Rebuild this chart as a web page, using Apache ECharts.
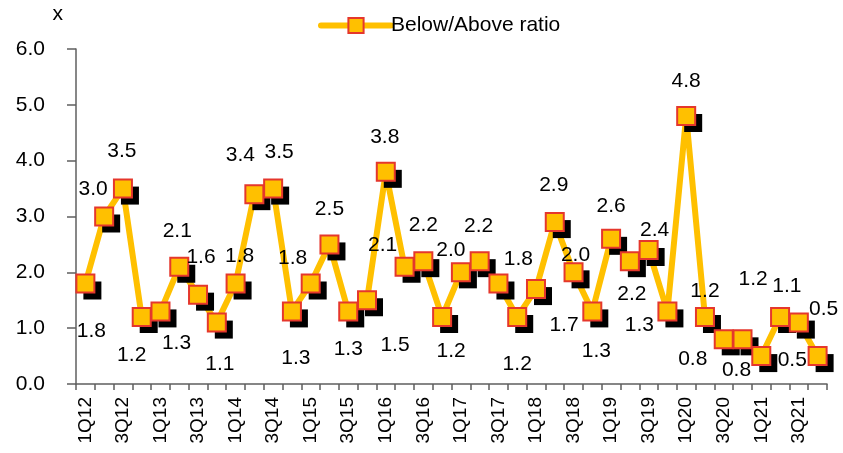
<!DOCTYPE html>
<html>
<head>
<meta charset="utf-8">
<script src="https://cdn.jsdelivr.net/npm/echarts@6/dist/echarts.min.js"></script>
<style>
  html, body { margin: 0; padding: 0; background: #fff; }
  #chart { width: 843px; height: 453px; }
</style>
</head>
<body>
<div id="chart"></div>
<script>
// Quarterly categories, 1Q12 .. 4Q21
const quarters = [
  '1Q12','2Q12','3Q12','4Q12','1Q13','2Q13','3Q13','4Q13',
  '1Q14','2Q14','3Q14','4Q14','1Q15','2Q15','3Q15','4Q15',
  '1Q16','2Q16','3Q16','4Q16','1Q17','2Q17','3Q17','4Q17',
  '1Q18','2Q18','3Q18','4Q18','1Q19','2Q19','3Q19','4Q19',
  '1Q20','2Q20','3Q20','4Q20','1Q21','2Q21','3Q21','4Q21'
];

// Below/Above ratio per quarter
const ratio = [
  1.8, 3.0, 3.5, 1.2, 1.3, 2.1, 1.6, 1.1,
  1.8, 3.4, 3.5, 1.3, 1.8, 2.5, 1.3, 1.5,
  3.8, 2.1, 2.2, 1.2, 2.0, 2.2, 1.8, 1.2,
  1.7, 2.9, 2.0, 1.3, 2.6, 2.2, 2.4, 1.3,
  4.8, 1.2, 0.8, 0.8, 0.5, 1.2, 1.1, 0.5
];

// Y-axis ticks
const yTicks = [0, 1, 2, 3, 4, 5, 6];

// Where each value label sits relative to its marker centre (px)
const labelShift = [
  [6, 48], [-11, -27], [-1, -37], [-10, 38], [16, 32], [-2, -36], [3, -37], [3, 42],
  [4, -27], [-14, -39], [6, -36], [4, 47], [-18, -25], [0, -35], [0, 38], [28, 45],
  [-1, -35], [-22, -22], [0, -36], [9, 34], [-10, -22], [-1, -35], [20, -24], [0, 47],
  [28, 36], [-1, -37], [2, -17], [4, 40], [0, -33], [2, 33], [6, -20], [-28, 14],
  [0, -35], [0, -26], [-31, 20], [-6, 31], [31, 4], [-27, -38], [-12, -36], [6, -47]
];

const FONT = "'Liberation Sans', Arial, sans-serif";
const AXIS = '#5f5f5f';
const GOLD = '#FFC000';
const RED = '#E5372C';
const NAME = 'Below/Above ratio';

const chart = echarts.init(document.getElementById('chart'), null, { renderer: 'canvas' });

const labelled = ratio.map((v, i) => ({
  value: v,
  label: { offset: labelShift[i] }
}));

chart.setOption({
  animation: false,
  grid: { left: 76, right: 16, top: 49, bottom: 69, containLabel: false },
  legend: {
    top: 10,
    left: 313,
    itemWidth: 70,
    itemHeight: 19,
    textStyle: { fontFamily: FONT, fontSize: 21, color: '#000', padding: [0, 0, 0, -5] },
    data: [{
      name: NAME,
      itemStyle: { color: GOLD, borderColor: RED, borderWidth: 2 },
      lineStyle: { color: GOLD, width: 6, cap: 'round' }
    }]
  },
  xAxis: {
    type: 'category',
    data: quarters,
    boundaryGap: true,
    axisLine: { lineStyle: { color: AXIS, width: 1.5 } },
    axisTick: { show: true, interval: 0, length: 6, lineStyle: { color: AXIS, width: 1.5 } },
    axisLabel: {
      interval: 1,
      rotate: 90,
      margin: 13,
      fontFamily: FONT,
      fontSize: 19,
      color: '#000'
    },
    splitLine: { show: false }
  },
  yAxis: {
    type: 'value',
    min: yTicks[0],
    max: yTicks[yTicks.length - 1],
    interval: 1,
    name: 'x',
    nameLocation: 'end',
    nameGap: 24,
    nameTextStyle: { fontFamily: FONT, fontSize: 21, color: '#000', align: 'right', padding: [0, 13, 0, 0] },
    axisLine: { show: true, lineStyle: { color: AXIS, width: 1.5 } },
    axisTick: { show: true, length: 9, lineStyle: { color: AXIS, width: 1.5 } },
    axisLabel: {
      margin: 31,
      fontFamily: FONT,
      fontSize: 21,
      color: '#000',
      formatter: v => v.toFixed(1)
    },
    splitLine: { show: false }
  },
  series: [
    // connecting line
    {
      name: NAME,
      type: 'line',
      data: ratio,
      symbol: 'rect',
      symbolSize: 15,
      showSymbol: false,
      itemStyle: { color: GOLD, borderColor: RED, borderWidth: 2 },
      lineStyle: { color: GOLD, width: 6, join: 'round', cap: 'round' },
      emphasis: { disabled: true },
      silent: true,
      z: 2
    },
    // dark drop shadow behind each marker
    {
      name: 'shadow',
      type: 'line',
      data: ratio,
      symbol: 'rect',
      symbolSize: 18,
      symbolOffset: [7, 7],
      showAllSymbol: true,
      lineStyle: { width: 0, opacity: 0 },
      itemStyle: { color: '#000', borderWidth: 0 },
      emphasis: { disabled: true },
      silent: true,
      z: 3
    },
    // square markers with value labels
    {
      name: 'markers',
      type: 'line',
      data: labelled,
      symbol: 'rect',
      symbolSize: 18,
      showAllSymbol: true,
      lineStyle: { width: 0, opacity: 0 },
      itemStyle: { color: GOLD, borderColor: RED, borderWidth: 2 },
      label: {
        show: true,
        position: 'inside',
        fontFamily: FONT,
        fontSize: 21,
        color: '#000',
        formatter: p => p.value.toFixed(1)
      },
      emphasis: { disabled: true },
      silent: true,
      z: 4
    }
  ]
});
</script>
</body>
</html>
